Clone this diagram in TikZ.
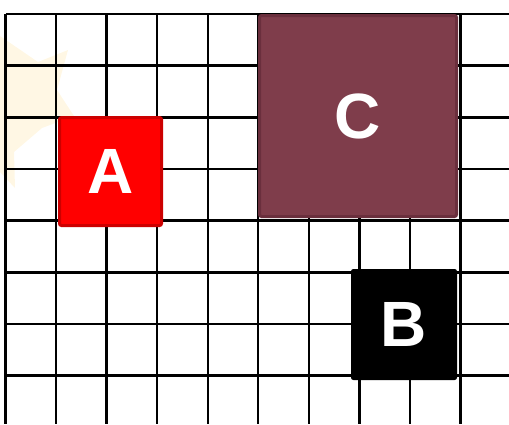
\documentclass[tikz,border=0pt]{standalone}
\usepackage{fontspec}
\setmainfont{Liberation Sans}
\definecolor{boxred}{HTML}{FF0000}
\definecolor{boxredline}{HTML}{CC0000}
\definecolor{boxwine}{HTML}{7F3D4B}
\definecolor{boxwineline}{HTML}{6A2F3D}
\definecolor{paleglow}{HTML}{FFF7E4}
\begin{document}
\begin{tikzpicture}[x=0.5pt, y=-0.5pt,
    every node/.style={rectangle, draw, line width=1.5pt, rounded corners=1pt, inner sep=0pt,
        text=white, font=\fontsize{32}{32}\selectfont\bfseries}]
    \path[use as bounding box] (0,0) rectangle (509,424);

    % Faint shape behind the grid
    \fill[paleglow] (0,36) -- (38,62) -- (68,50) -- (57,90) -- (74,116) -- (42,128)
        -- (14,152) -- (15,188) -- (0,172) -- cycle;

    % Grid
    \foreach \i in {0,...,9}
        \draw[line width=1.2pt] (5.5+50.55*\i,14) -- (5.5+50.55*\i,424);
    \foreach \j in {0,...,7}
        \draw[line width=1.2pt] (5.5,14+51.67*\j) -- (509,14+51.67*\j);

    \node[fill=boxred, draw=boxredline, minimum width=51pt, minimum height=54pt] (A) at (110.5,171.5) {A};
    \node[fill=boxwine, draw=boxwineline, minimum width=98.5pt, minimum height=100.5pt] (C) at (358,116) {C};
    \node[fill=black, draw=black, line width=0.5pt, minimum width=52.5pt, minimum height=55pt] (B) at (404,324.5) {B};

    \end{tikzpicture}
\end{document}
